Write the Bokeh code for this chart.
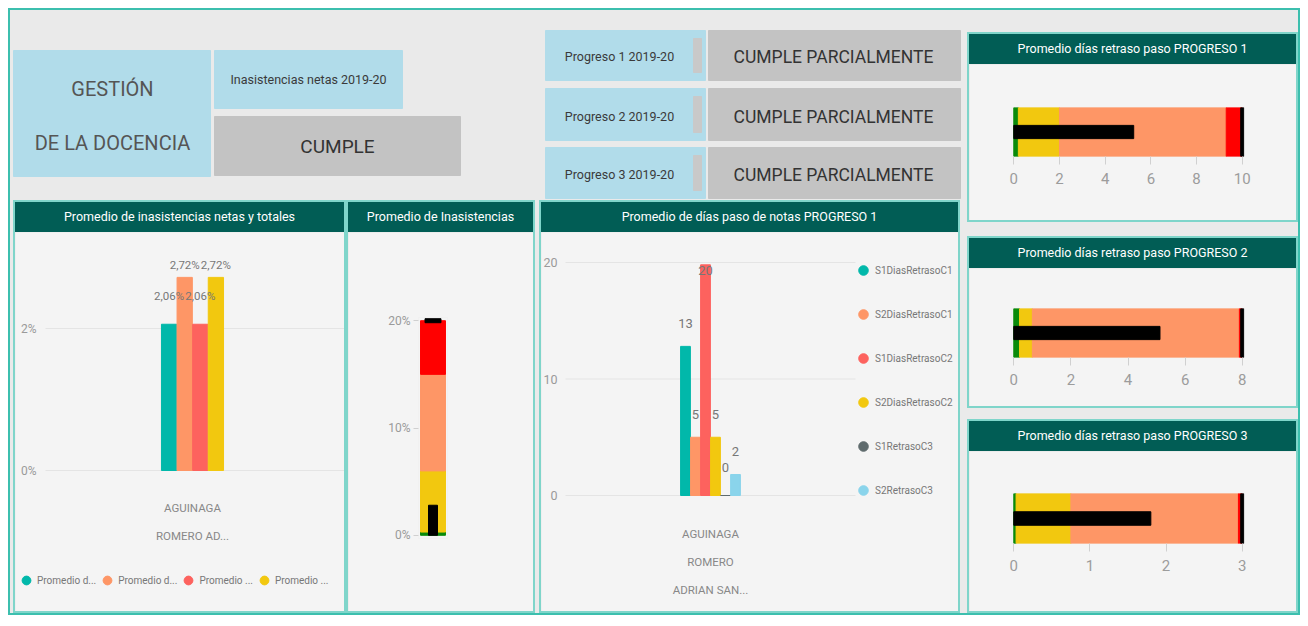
from bokeh.plotting import figure
from bokeh.layouts import row, column
from bokeh.models import (Range1d, FactorRange, ColumnDataSource, Legend, LegendItem,
                          Spacer, NumeralTickFormatter, FixedTicker, Div)
from bokeh.core.properties import value
from bokeh.embed import file_html
from bokeh.resources import INLINE

# ---------------- data ----------------
kpi_title = ["GESTIÓN", "DE LA DOCENCIA"]
kpi_label = "Inasistencias netas 2019-20"
kpi_status = "CUMPLE"
prog_labels = ["Progreso 1 2019-20", "Progreso 2 2019-20", "Progreso 3 2019-20"]
prog_status = ["CUMPLE PARCIALMENTE", "CUMPLE PARCIALMENTE", "CUMPLE PARCIALMENTE"]

title_p1 = "Promedio de inasistencias netas y totales"
title_p2 = "Promedio de Inasistencias"
title_p3 = "Promedio de días paso de notas PROGRESO 1"
bullet_titles = ["Promedio días retraso paso PROGRESO 1",
                 "Promedio días retraso paso PROGRESO 2",
                 "Promedio días retraso paso PROGRESO 3"]

cat1 = "AGUINAGA\nROMERO AD..."
ser1 = ["Promedio d...", "Promedio d...", "Promedio ...", "Promedio ..."]
val1 = [0.0206, 0.0272, 0.0206, 0.0272]
ticks1 = [0, 0.02]

# vertical bullet (Promedio de Inasistencias)
bands2 = [0.0, 0.003, 0.06, 0.15, 0.20]     # green, yellow, orange, red edges
value2 = 0.028
target2 = 0.20
ticks2 = [0, 0.1, 0.2]

cat3 = "AGUINAGA\nROMERO\nADRIAN SAN..."
ser3 = ["S1DiasRetrasoC1", "S2DiasRetrasoC1", "S1DiasRetrasoC2",
        "S2DiasRetrasoC2", "S1RetrasoC3", "S2RetrasoC3"]
val3 = [12.8, 5.0, 19.8, 5.0, 0.0, 1.8]
ticks3 = [0, 10, 20]

# horizontal bullets (edges green|yellow|orange|red), value, target, ticks
bullet_bands = [[0, 0.2, 2.0, 9.3, 10.0],
                [0, 0.2, 0.65, 7.9, 8.0],
                [0, 0.03, 0.75, 2.95, 3.0]]
bullet_values = [5.25, 5.12, 1.8]
bullet_targets = [10, 8, 3]
bullet_ticks = [[0, 2, 4, 6, 8, 10], [0, 2, 4, 6, 8], [0, 1, 2, 3]]

# ---------------- styles ----------------
FONT = "Roboto"
F = value(FONT)
HDR = "#015D55"
PANEL_BG = "#F4F4F4"
ROOT_BG = "#EAEAEA"
BLUE = "#B1DCEA"
GREY = "#C3C3C3"
PAL1 = ["#01B8AA", "#FE9666", "#FD625E", "#F2C80F"]
PAL3 = ["#01B8AA", "#FE9666", "#FD625E", "#F2C80F", "#5F6B6D", "#8AD4EB"]
BAND_COLORS = ["#0A8A0A", "#F2C80F", "#FE9666", "#FF0000"]
lab_off1 = [28, 12, 28, 12]
lab_off3 = [23, 23, -6, 23, 28, 23]
NAN = float("nan")


def base_fig(w, h, **kw):
    return figure(width=w, height=h, toolbar_location=None, output_backend="svg",
                  background_fill_color=PANEL_BG, border_fill_color=PANEL_BG,
                  outline_line_color=None, **kw)


def header(text, w, h=30):
    return Div(text=text, width=w, height=h, margin=0,
               styles={"background-color": HDR, "color": "white", "font-family": FONT,
                       "font-size": "12.5px", "text-align": "center",
                       "line-height": "%dpx" % h, "white-space": "nowrap", "overflow": "hidden"})


def panel(hdr, body):
    return column(hdr, body, styles={"border": "2px solid #7FD5CA"})


def style_axis(ax, size="12px", color="#9A9A9A"):
    ax.axis_line_color = None
    ax.major_tick_line_color = None
    ax.minor_tick_line_color = None
    ax.major_tick_out = 0
    ax.major_tick_in = 0
    ax.major_label_text_font = FONT
    ax.major_label_text_font_size = size
    ax.major_label_text_color = color


# ---------------- top cards ----------------
TW, TH = 954, 190
top = figure(width=TW, height=TH, x_range=Range1d(0, TW), y_range=Range1d(TH, 0),
             toolbar_location=None, output_backend="svg", min_border=0,
             x_axis_location=None, y_axis_location=None,
             background_fill_color=ROOT_BG, border_fill_color=ROOT_BG, outline_line_color=None)
top.grid.visible = False
top.quad(left=[3, 204], right=[200, 392], top=[40, 40], bottom=[166, 98], color=BLUE)
top.quad(left=[204], right=[450], top=[106], bottom=[165], color=GREY)
pt = [20, 78, 137]
pb = [70, 130, 188]
top.quad(left=[535] * 3, right=[695] * 3, top=pt, bottom=pb, color=BLUE)
top.quad(left=[683] * 3, right=[691] * 3, top=[t + 8 for t in pt], bottom=[b - 8 for b in pb],
         color="#C9C9C9")
top.quad(left=[698] * 3, right=[950] * 3, top=pt, bottom=pb, color=GREY)
top.text(x=[102, 102], y=[78, 132], text=kpi_title, text_align="center", text_baseline="middle",
         text_font=F, text_font_size="20px", text_color="#555555")
top.text(x=[298], y=[69], text=[kpi_label], text_align="center", text_baseline="middle",
         text_font=F, text_font_size="12.5px", text_color="#3A3A3A")
top.text(x=[327], y=[136], text=[kpi_status], text_align="center", text_baseline="middle",
         text_font=F, text_font_size="19px", text_color="#333333")
top.text(x=[609] * 3, y=[46, 106, 164], text=prog_labels, text_align="center",
         text_baseline="middle", text_font=F, text_font_size="12.5px", text_color="#3A3A3A")
top.text(x=[823] * 3, y=[46, 106, 164], text=prog_status, text_align="center",
         text_baseline="middle", text_font=F, text_font_size="17.5px", text_color="#333333")


def cluster_chart(w, h, cat, sers, vals, pal, bw, px_unit, center_px, axis_px,
                  zero_px, y_px_unit, ticks, lab_fmt, lab_off, lab_size, grid_end_px):
    """frame fills the whole body; axes are fixed inside it (take no border space)."""
    xr = Range1d(-center_px / px_unit, (w - center_px) / px_unit)
    yr = Range1d(-(h - zero_px) / y_px_unit, zero_px / y_px_unit)
    p = base_fig(w, h, x_range=xr, y_range=yr, min_border=0)
    n = len(vals)
    ax_x = (axis_px - center_px) / px_unit
    gx1 = (grid_end_px - center_px) / px_unit
    # grid lines at the y ticks, from the y axis to the plot-area end
    p.segment(x0=[ax_x] * len(ticks), x1=[gx1] * len(ticks), y0=ticks, y1=ticks,
              line_color="#E4E4E4", line_width=1)
    srcs = []
    items = []
    for i, (s, v) in enumerate(zip(sers, vals)):
        off = (i - (n - 1) / 2) * bw
        src = ColumnDataSource(dict(x=[0 + off], top=[v], lab=[lab_fmt(v)]))
        srcs.append(src)
        p.vbar(x="x", top="top", width=bw * 0.98, source=src, color=pal[i])
        r = p.scatter(x=[NAN], y=[NAN], marker="circle", size=12, color=pal[i])
        items.append(LegendItem(label=s, renderers=[r]))
    for i, src in enumerate(srcs):
        p.text(x="x", y="top", text="lab", source=src, y_offset=-lab_off[i],
               text_align="center", text_baseline="middle",
               text_font=F, text_font_size=lab_size, text_color="#777777")
    p.yaxis.fixed_location = ax_x
    p.yaxis.ticker = FixedTicker(ticks=ticks)
    p.xaxis.fixed_location = 0
    p.xaxis.ticker = FixedTicker(ticks=[0])
    p.xaxis.major_label_overrides = {0: cat}
    p.grid.visible = False
    return p, items


# ---------------- panel 1: clustered bars ----------------
p1, items1 = cluster_chart(329, 379, cat1, ser1, val1, PAL1, bw=0.052, px_unit=300,
                           center_px=177, axis_px=30, zero_px=238, y_px_unit=7100,
                           ticks=ticks1,
                           lab_fmt=lambda v: ("%.2f%%" % (v * 100)).replace(".", ","),
                           lab_off=lab_off1, lab_size="11.5px", grid_end_px=329)
p1.yaxis.formatter = NumeralTickFormatter(format="0%")
style_axis(p1.yaxis)
p1.yaxis.major_label_standoff = 9
style_axis(p1.xaxis, size="11.5px", color="#888888")
p1.xaxis.major_label_standoff = 30
p1.xaxis.major_label_text_line_height = 2.0
leg1 = Legend(items=items1, orientation="horizontal", location=(0, 19),
              background_fill_alpha=0, border_line_color=None, padding=0, margin=0,
              glyph_width=22, glyph_height=24, label_height=20, label_standoff=0, spacing=0,
              label_text_font=FONT, label_text_font_size="10px", label_text_color="#777777")
p1.add_layout(leg1, "center")

# ---------------- panel 2: vertical bullet ----------------
cat2 = ["v"]
p2 = base_fig(185, 379, x_range=FactorRange(factors=cat2, range_padding=0),
              y_range=Range1d(-0.003, 0.203), x_axis_location=None,
              min_border_left=70, min_border_right=86, min_border_top=85, min_border_bottom=73)
for i in range(4):
    p2.vbar(x=cat2, bottom=[bands2[i]], top=[bands2[i + 1]], width=0.86, color=BAND_COLORS[i])
p2.vbar(x=cat2, bottom=[0], top=[value2], width=0.31, color="black")
p2.rect(x=cat2, y=[target2], width=0.55, height=4, height_units="screen", color="black")
p2.yaxis.ticker = FixedTicker(ticks=ticks2)
p2.yaxis.formatter = NumeralTickFormatter(format="0%")
style_axis(p2.yaxis)
p2.yaxis.major_tick_line_color = "#D0D0D0"
p2.yaxis.major_tick_out = 5
p2.yaxis.major_label_standoff = 3
p2.grid.visible = False

# ---------------- panel 3: clustered bars with legend ----------------
p3, items3 = cluster_chart(417, 379, cat3, ser3, val3, PAL3, bw=0.0345, px_unit=290,
                           center_px=169, axis_px=24, zero_px=263, y_px_unit=11.65,
                           ticks=ticks3, lab_fmt=lambda v: "%d" % round(v),
                           lab_off=lab_off3, lab_size="13px", grid_end_px=314)
style_axis(p3.yaxis, size="12.5px")
p3.yaxis.major_label_standoff = 8
style_axis(p3.xaxis, size="11.5px", color="#888888")
p3.xaxis.major_label_standoff = 31
p3.xaxis.major_label_text_line_height = 2.0
leg3 = Legend(items=items3, orientation="vertical", location=(310, 107),
              background_fill_alpha=0, border_line_color=None, padding=0, margin=0,
              glyph_width=24, glyph_height=28, label_height=20, label_standoff=0, spacing=16,
              label_text_font=FONT, label_text_font_size="10px", label_text_color="#777777")
p3.add_layout(leg3, "center")

# ---------------- right column: horizontal bullets ----------------
bullet_heights = [156, 138, 160]
bullet_tb = [(43, 64), (40, 49), (42, 68)]
bullet_panels = []
for k in range(3):
    edges = bullet_bands[k]
    mx = bullet_targets[k]
    pad = mx * 0.01
    b = base_fig(327, bullet_heights[k], x_range=Range1d(-pad, mx + pad), y_range=Range1d(0, 1),
                 y_axis_location=None,
                 min_border_left=42, min_border_right=52,
                 min_border_top=bullet_tb[k][0], min_border_bottom=bullet_tb[k][1])
    b.hbar(y=[0.5] * 4, left=edges[:-1], right=edges[1:], height=1.0, color=BAND_COLORS)
    b.hbar(y=[0.5], left=[0], right=[bullet_values[k]], height=0.27, color="black")
    b.rect(x=[bullet_targets[k]], y=[0.5], width=3, width_units="screen", height=1.0,
           color="black")
    b.xaxis.ticker = FixedTicker(ticks=bullet_ticks[k])
    style_axis(b.xaxis, size="15px", color="#9C9C9C")
    b.xaxis.major_tick_line_color = "#D0D0D0"
    b.xaxis.major_tick_out = 8
    b.xaxis.major_label_standoff = 8
    b.grid.visible = False
    bullet_panels.append(panel(header(bullet_titles[k], 327), b))

# ---------------- layout ----------------
bottom = row(Spacer(width=3, height=413),
             panel(header(title_p1, 329), p1),
             panel(header(title_p2, 185), p2),
             Spacer(width=4, height=413),
             panel(header(title_p3, 417), p3))
ab = column(top, bottom)
ccol = column(Spacer(width=331, height=22), bullet_panels[0],
              Spacer(width=331, height=14), bullet_panels[1],
              Spacer(width=331, height=11), bullet_panels[2])
root = row(ab, Spacer(width=3, height=600), ccol,
           styles={"border": "2px solid #3CBFAE", "background-color": ROOT_BG})
page = column(Spacer(width=1290, height=8), row(Spacer(width=8, height=607), root))

open("out.html", "w").write(file_html(page, INLINE))
